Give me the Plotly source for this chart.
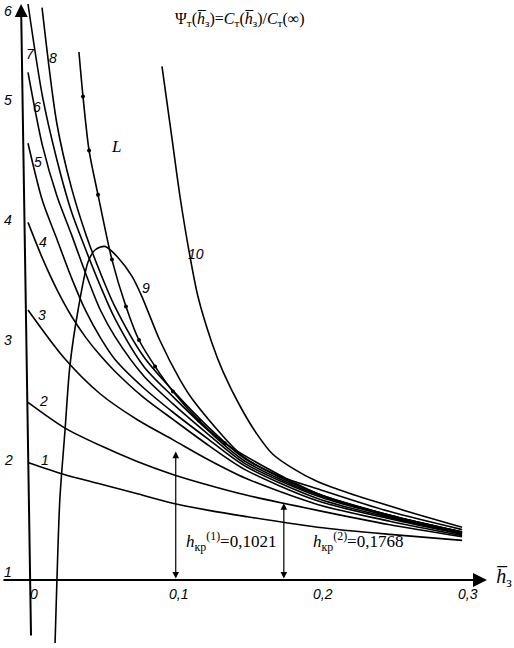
import plotly.graph_objects as go

# ---------------- data ----------------
h_low = [0, 0.025, 0.05, 0.075, 0.1, 0.125, 0.15, 0.2, 0.25, 0.3]
psi_1 = [1.98, 1.88, 1.80, 1.72, 1.64, 1.58, 1.53, 1.44, 1.38, 1.33]
psi_2 = [2.48, 2.27, 2.12, 1.99, 1.88, 1.79, 1.71, 1.58, 1.46, 1.36]
psi_3 = [3.25, 2.85, 2.55, 2.34, 2.17, 2.00, 1.85, 1.63, 1.49, 1.37]

h_mid = [0, 0.01, 0.02, 0.03, 0.04, 0.05, 0.06, 0.08, 0.1, 0.125, 0.15, 0.2, 0.25, 0.3]
psi_4 = [3.98, 3.68, 3.42, 3.20, 3.02, 2.87, 2.74, 2.52, 2.34, 2.12, 1.92, 1.66, 1.51, 1.38]
psi_5 = [4.64, 4.16, 3.84, 3.52, 3.24, 3.02, 2.84, 2.60, 2.40, 2.17, 1.95, 1.68, 1.52, 1.39]
psi_6 = [5.23, 4.62, 4.20, 3.88, 3.55, 3.25, 3.03, 2.70, 2.47, 2.21, 1.97, 1.70, 1.53, 1.39]
psi_7 = [5.80, 5.03, 4.50, 4.07, 3.75, 3.45, 3.18, 2.78, 2.53, 2.24, 1.99, 1.71, 1.54, 1.40]

h_8 = [0.0097, 0.02, 0.03, 0.04, 0.05, 0.06, 0.08, 0.1, 0.125, 0.15, 0.2, 0.25, 0.3]
psi_8 = [5.77, 4.80, 4.27, 3.88, 3.56, 3.28, 2.86, 2.58, 2.27, 2.01, 1.72, 1.54, 1.40]

h_9 = [0.0187, 0.020, 0.022, 0.0256, 0.029, 0.0346, 0.0415, 0.0463, 0.0532, 0.062,
       0.0719, 0.0788, 0.091, 0.105, 0.114, 0.1486, 0.175, 0.2, 0.25, 0.3]
psi_9 = [0.475, 1.0, 1.67, 2.25, 2.79, 3.25, 3.65, 3.75, 3.78, 3.69,
         3.53, 3.36, 3.0, 2.67, 2.5, 2.03, 1.86, 1.76, 1.57, 1.42]

h_10 = [0.0926, 0.0995, 0.105, 0.111, 0.1175, 0.127, 0.135, 0.1465, 0.158, 0.169,
        0.183, 0.2, 0.2225, 0.26, 0.3]
psi_10 = [5.28, 4.68, 4.20, 3.76, 3.36, 2.98, 2.73, 2.45, 2.22, 2.05,
          1.93, 1.82, 1.72, 1.58, 1.44]

h_L = [0.0352, 0.038, 0.0422, 0.0484, 0.058, 0.0677, 0.0767, 0.0878, 0.1002, 0.118,
       0.136, 0.2, 0.25, 0.3]
psi_L = [5.40, 5.03, 4.58, 4.21, 3.67, 3.28, 3.0, 2.78, 2.57, 2.33,
         2.14, 1.72, 1.54, 1.40]
h_L_dots = [0.038, 0.0422, 0.0484, 0.058, 0.0677, 0.0767, 0.0878, 0.1002, 0.118, 0.136]
psi_L_dots = [5.03, 4.58, 4.21, 3.67, 3.28, 3.0, 2.78, 2.57, 2.33, 2.14]

h_cr = [0.1021, 0.1768]
h_cr_text = ["0,1021", "0,1768"]
h_cr_top = [2.07, 1.64]

x_tick_vals = [0, 0.1, 0.2, 0.3]
x_tick_text = ["0", "0,1", "0,2", "0,3"]
y_tick_vals = [1, 2, 3, 4, 5, 6]
y_tick_text = ["1", "2", "3", "4", "5", "6"]

curve_names = ["1", "2", "3", "4", "5", "6", "7", "8", "9", "10", "L"]
curve_h = [h_low, h_low, h_low, h_mid, h_mid, h_mid, h_mid, h_8, h_9, h_10, h_L]
curve_psi = [psi_1, psi_2, psi_3, psi_4, psi_5, psi_6, psi_7, psi_8, psi_9, psi_10, psi_L]

# ---------------- figure ----------------
fig = go.Figure()
for name, hx, py in zip(curve_names, curve_h, curve_psi):
    fig.add_trace(go.Scatter(x=hx, y=py, mode="lines", name=name,
                             line=dict(color="black", width=1.6, shape="spline", smoothing=0.8),
                             hoverinfo="skip"))
fig.add_trace(go.Scatter(x=h_L_dots, y=psi_L_dots, mode="markers", name="L dots",
                         marker=dict(color="black", size=4), hoverinfo="skip"))

ann = []
num_font = dict(family="Liberation Sans", size=14, color="black")
serif = dict(family="Liberation Serif", size=16, color="black")

# axes (drawn as arrows)
ann.append(dict(x=-0.0048, y=5.80, ax=0.0021, ay=0.525, xref="x", yref="y", axref="x", ayref="y",
                text="", showarrow=True, arrowhead=2, arrowsize=1.3, arrowwidth=2, arrowcolor="black"))
ann.append(dict(x=0.3172, y=1.0, ax=-0.018, ay=1.0, xref="x", yref="y", axref="x", ayref="y",
                text="", showarrow=True, arrowhead=2, arrowsize=1.4, arrowwidth=2, arrowcolor="black"))

for v, t in zip(x_tick_vals, x_tick_text):
    ann.append(dict(x=v, y=1.0, xref="x", yref="y", text="<i>" + t + "</i>", showarrow=False,
                    xanchor="center", yanchor="top", xshift=6, yshift=-4, font=num_font))
for v, t in zip(y_tick_vals, y_tick_text):
    ann.append(dict(x=-0.0135, y=min(v, 5.74), xref="x", yref="y", text="<i>" + t + "</i>",
                    showarrow=False, xanchor="center", yanchor="middle",
                    yshift=8 if v == 1 else 0, font=num_font))

# curve labels
label_pos = {"1": (0.0117, 2.0), "2": (0.0104, 2.49), "3": (0.0097, 3.21), "4": (0.0104, 3.82),
             "5": (0.0069, 4.48), "6": (0.0062, 4.94), "7": (0.0014, 5.38), "8": (0.0173, 5.35),
             "9": (0.0815, 3.43), "10": (0.1161, 3.72)}
for k, (x, y) in label_pos.items():
    ann.append(dict(x=x, y=y, xref="x", yref="y", text="<i>" + k + "</i>", showarrow=False,
                    font=num_font))
ann.append(dict(x=0.0608, y=4.61, xref="x", yref="y", text="<i>L</i>", showarrow=False,
                font=dict(family="Liberation Serif", size=17, color="black")))

# critical thickness arrows and labels
label_x = [0.1403, 0.228]
for i, (hc, top, txt) in enumerate(zip(h_cr, h_cr_top, h_cr_text)):
    ann.append(dict(x=hc, y=top, ax=hc, ay=1.0, xref="x", yref="y", axref="x", ayref="y",
                    text="", showarrow=True, arrowhead=2, arrowside="end+start",
                    arrowsize=1.1, arrowwidth=1.2, arrowcolor="black"))
    ann.append(dict(x=label_x[i], y=1.317, xref="x", yref="y",
                    text="<i>h</i><sub>кр</sub><sup>(" + str(i + 1) + ")</sup>=" + txt,
                    showarrow=False, font=dict(family="Liberation Serif", size=17, color="black")))

# title formula and axis name
ann.append(dict(x=0.1465, y=5.667, xref="x", yref="y",
                text="Ψ<sub>т</sub>(<i>h̅</i><sub>з</sub>)=<i>C</i><sub>т</sub>(<i>h̅</i><sub>з</sub>)/<i>C</i><sub>т</sub>(∞)",
                showarrow=False, font=serif))
ann.append(dict(x=0.3358, y=1.02, xref="x", yref="y", text="<i>h̅</i><sub>з</sub>",
                showarrow=False, xanchor="right", font=dict(family="Liberation Serif", size=20, color="black")))

fig.update_layout(
    width=514, height=648, margin=dict(l=0, r=0, t=0, b=0),
    paper_bgcolor="white", plot_bgcolor="white", showlegend=False,
    xaxis=dict(range=[-0.01935, 0.33587], visible=False, fixedrange=True),
    yaxis=dict(range=[0.4333, 5.8333], visible=False, fixedrange=True),
    annotations=ann,
)
fig.write_html("out.html", config={"displayModeBar": False},
               post_script="document.body.style.margin='0';")
